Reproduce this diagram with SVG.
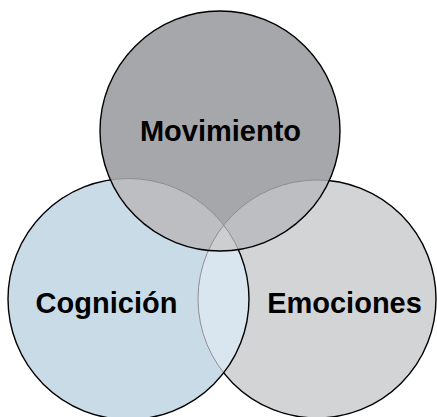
<svg xmlns="http://www.w3.org/2000/svg" width="437" height="417" viewBox="0 0 437 417">
<style>
.lbl{font-family:"Liberation Sans",Arial,sans-serif;font-weight:bold;font-size:29px;fill:#000;text-anchor:middle}
.blk{fill:none;stroke:#000;stroke-width:1.4}
.gry{fill:none;stroke:#8e8e90;stroke-width:1}
</style>
<defs>
<circle id="cT" cx="220" cy="131" r="120"/>
<circle id="cL" cx="128.5" cy="299" r="120.5"/>
<circle id="cR" cx="317" cy="299" r="119"/>
<clipPath id="inT"><use href="#cT"/></clipPath>
<clipPath id="inL"><use href="#cL"/></clipPath>
<clipPath id="inR"><use href="#cR"/></clipPath>
<clipPath id="inLT"><use href="#cL"/><use href="#cT"/></clipPath>
<mask id="notLT" maskUnits="userSpaceOnUse" x="0" y="0" width="437" height="417"><rect width="437" height="417" fill="#fff"/><use href="#cL" fill="#000"/><use href="#cT" fill="#000"/></mask>
<mask id="notT" maskUnits="userSpaceOnUse" x="0" y="0" width="437" height="417"><rect width="437" height="417" fill="#fff"/><use href="#cT" fill="#000"/></mask>
</defs>
<g id="fills">
<use href="#cR" fill="#d3d4d6"/>
<use href="#cL" fill="#c9dbe7"/>
<use href="#cL" fill="#dae6ef" clip-path="url(#inR)"/>
<use href="#cT" fill="#a6a7ab"/>
<use href="#cT" fill="#bdbec1" clip-path="url(#inL)"/>
<use href="#cT" fill="#bdbec1" clip-path="url(#inR)"/>
<g clip-path="url(#inR)"><use href="#cT" fill="#cdcecf" clip-path="url(#inL)"/></g>
</g>
<g id="node-emociones">
<use href="#cR" class="gry" clip-path="url(#inLT)"/>
<use href="#cR" class="blk" mask="url(#notLT)"/>
<text class="lbl" x="344.5" y="313">Emociones</text>
</g>
<g id="node-cognicion">
<use href="#cL" class="gry" clip-path="url(#inT)"/>
<use href="#cL" class="blk" mask="url(#notT)"/>
<text class="lbl" x="106.5" y="313">Cognición</text>
</g>
<g id="node-movimiento">
<use href="#cT" class="blk"/>
<text class="lbl" x="220.5" y="141">Movimiento</text>
</g>
<g id="connectors"/>
</svg>
